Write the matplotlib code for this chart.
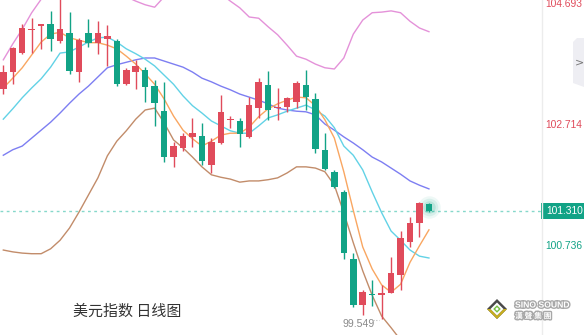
import matplotlib
matplotlib.use("Agg")
import matplotlib.pyplot as plt
import matplotlib.transforms as mtransforms
import matplotlib.patheffects as pe
from matplotlib.patches import Polygon, Rectangle

plt.rcParams['font.family'] = ['Noto Sans CJK SC', 'DejaVu Sans']

# daily candles, US dollar index
opens = [103.303, 103.581, 103.891, 104.268, 104.341, 104.366, 104.088, 104.218, 103.581, 104.218,
         104.055, 104.120, 104.088, 103.385, 103.581, 103.614, 103.352, 102.943, 102.191, 102.338,
         102.518, 102.534, 102.060, 102.420, 102.796, 102.780, 102.518, 102.992, 103.368, 102.992,
         103.008, 103.090, 103.368, 103.139, 102.306, 101.946, 101.619, 100.523, 99.771, 99.951,
         99.935, 99.968, 100.262, 100.801, 101.112, 101.423]
highs = [103.695, 103.990, 104.366, 104.464, 104.357, 104.578, 104.790, 104.562, 104.137, 104.447,
         104.415, 104.349, 104.120, 103.646, 103.777, 103.663, 103.450, 103.417, 102.436, 102.583,
         102.829, 102.747, 102.502, 103.205, 102.861, 102.829, 103.172, 103.483, 103.597, 103.319,
         103.172, 103.434, 103.614, 103.237, 102.583, 101.979, 101.652, 100.621, 100.017, 100.180,
         100.098, 100.556, 100.981, 101.210, 101.455, 101.439]
lows = [103.221, 103.385, 103.870, 103.891, 103.957, 103.924, 104.055, 103.548, 103.417, 103.990,
        103.875, 103.679, 103.352, 103.368, 103.303, 103.090, 102.698, 102.109, 102.028, 102.289,
        102.354, 102.060, 101.930, 102.404, 102.665, 102.354, 102.502, 102.829, 102.796, 102.796,
        102.927, 102.992, 102.960, 102.256, 101.979, 101.684, 100.523, 99.738, 99.608, 99.755,
        99.549, 99.960, 100.017, 100.720, 100.883, 101.300]
closes = [103.581, 103.973, 104.300, 104.284, 104.349, 104.120, 104.284, 103.597, 104.104, 104.055,
          104.218, 104.169, 103.385, 103.614, 103.679, 103.336, 103.074, 102.191, 102.371, 102.534,
          102.583, 102.126, 102.436, 102.927, 102.812, 102.567, 103.041, 103.417, 102.960, 103.008,
          103.156, 103.401, 103.172, 102.322, 101.995, 101.701, 100.621, 99.771, 99.984, 99.935,
          99.968, 100.294, 100.867, 101.112, 101.439, 101.310]

# indicator lines
ma_orange = [103.32, 103.48, 103.65, 103.86, 104.07, 104.20, 104.23, 104.14, 104.10, 104.06,
             104.06, 104.02, 103.96, 103.84, 103.71, 103.55, 103.38, 103.14, 102.86, 102.63,
             102.49, 102.37, 102.45, 102.55, 102.58, 102.58, 102.68, 102.85, 102.98, 103.06,
             103.12, 103.17, 103.16, 103.03, 102.80, 102.50, 101.95, 101.32, 100.72, 100.36,
             100.10, 99.98, 100.11, 100.47, 100.74, 101.00]
ma_cyan = [102.81, 102.98, 103.16, 103.32, 103.47, 103.66, 103.89, 103.91, 103.99, 104.07,
           104.14, 104.15, 104.07, 103.96, 103.88, 103.79, 103.68, 103.53, 103.38, 103.19,
           103.03, 102.91, 102.78, 102.70, 102.62, 102.58, 102.58, 102.70, 102.83, 102.88,
           102.94, 102.99, 103.04, 102.96, 102.86, 102.67, 102.37, 102.22, 101.98, 101.62,
           101.28, 100.98, 100.83, 100.67, 100.57, 100.54]
ma_blue = [102.22, 102.31, 102.37, 102.50, 102.63, 102.76, 102.91, 103.07, 103.22, 103.35,
           103.50, 103.65, 103.70, 103.74, 103.78, 103.81, 103.81, 103.76, 103.71, 103.66,
           103.58, 103.48, 103.42, 103.35, 103.29, 103.22, 103.17, 103.12, 103.06, 102.99,
           102.96, 102.94, 102.93, 102.88, 102.73, 102.63, 102.52, 102.42, 102.31, 102.19,
           102.11, 102.01, 101.91, 101.80, 101.73, 101.67]
band_up = [103.78, 104.04, 104.28, 104.55, 104.77, 105.00, 105.17, 105.25, 105.28, 105.25,
           105.17, 105.05, 104.92, 104.81, 104.74, 104.68, 104.64, 104.81, 104.95, 105.05,
           105.12, 105.09, 104.99, 104.86, 104.74, 104.63, 104.48, 104.46, 104.32, 104.19,
           104.02, 103.84, 103.79, 103.71, 103.65, 103.63, 103.81, 104.20, 104.43, 104.55,
           104.56, 104.58, 104.55, 104.41, 104.30, 104.24]
band_dn = [100.67, 100.64, 100.62, 100.61, 100.61, 100.69, 100.83, 101.03, 101.29, 101.57,
           101.85, 102.21, 102.45, 102.62, 102.81, 102.96, 102.99, 102.75, 102.47, 102.34,
           102.19, 102.03, 101.90, 101.86, 101.83, 101.78, 101.80, 101.80, 101.82, 101.85,
           101.93, 102.03, 102.03, 102.01, 101.95, 101.73, 101.28, 100.79, 100.33, 99.93,
           99.59, 99.40, 99.20, 99.00, 98.81, 98.61]

axis_ticks = [104.693, 102.714, 100.736]
last_price = 101.310
low_price = 99.549
low_idx = 40

up_col = '#e04b5b'
dn_col = '#12a386'
num_font = 'Liberation Sans'

fig = plt.figure(figsize=(5.84, 3.35), dpi=100)
ax = fig.add_axes([0, 0, 541.5 / 584, 1])
ax.set_xlim(-0.35, 56.9)
ax.set_ylim(99.281, 104.758)
ax.axis('off')

x = list(range(len(opens)))

# lines
ax.plot(x, band_up, color='#e492d9', lw=1)
ax.plot(x, band_dn, color='#c28c6a', lw=1)
ax.plot(x, ma_blue, color='#7d7ef2', lw=1)
ax.plot(x, ma_cyan, color='#62d2e6', lw=1)
ax.plot(x, ma_orange, color='#f9a661', lw=1)

# candles
for i in x:
    o, h, l, c = opens[i], highs[i], lows[i], closes[i]
    col = up_col if c >= o else dn_col
    ax.vlines(i, l, h, color=col, lw=1, zorder=3)
    ax.bar(i, max(abs(c - o), 0.022), bottom=min(o, c), width=0.69, color=col, lw=0, zorder=4)

# glow on the live candle
for s, a in [(260, 0.07), (160, 0.10), (80, 0.14)]:
    ax.scatter(x[-1], (opens[-1] + closes[-1]) / 2, s=s, color=dn_col, alpha=a, lw=0, zorder=2)

# last price line
ax.axhline(last_price, color='#86d8cb', lw=1, ls=(0, (2, 2.5)), zorder=1)

# lowest point label
ax.text(low_idx - 4.1, low_price - 0.01, f'{low_price:.3f}', color='#8a8a8a', fontsize=7.6,
        ha='left', va='top', family=num_font)
ax.plot([low_idx - 0.9, low_idx - 0.3], [low_price - 0.03, low_price - 0.03], color='#bbbbbb',
        lw=0.8, ls=(0, (1, 1.5)))

# right price axis
trans = mtransforms.blended_transform_factory(fig.transFigure, ax.transData)
tick_cols = [up_col, up_col, dn_col]
for v, col in zip(axis_ticks, tick_cols):
    fig.text(545 / 584, v, f'{v:.3f}', transform=trans, color=col, fontsize=7.4,
             va='center', ha='left', family=num_font)

ov = fig.add_axes([0, 0, 1, 1], facecolor='none')
ov.set_xlim(0, 584)
ov.set_ylim(335, 0)
ov.axis('off')
ov.plot([541.5, 541.5], [0, 335], color='#ececec', lw=1)

ov.add_patch(Rectangle((541, 203), 43, 15.5, color=dn_col, lw=0))
fig.text(546 / 584, last_price, f'{last_price:.3f}', transform=trans, color='white', fontsize=7.4,
         va='center', ha='left', family=num_font)

# collapse button
ov.add_patch(Polygon([(577, 38), (584, 38), (584, 87), (573, 83), (573, 42)], closed=True,
                     color='#eeeef3', lw=0))
ov.text(579, 62, '>', color='#777777', fontsize=8, ha='center', va='center', family='DejaVu Sans')

# title
ov.text(73, 312, '美元指数 日线图', color='#333333', fontsize=10.8, ha='left', va='center')

# logo
cx, cy = 497, 309
ov.add_patch(Polygon([(cx, cy - 10), (cx + 10, cy), (cx, cy + 10), (cx - 10, cy)], color='#4a4a4a', lw=0))
ov.add_patch(Polygon([(cx - 10, cy), (cx, cy + 10), (cx + 10, cy), (cx + 6.5, cy), (cx, cy + 6.5),
                      (cx - 6.5, cy)], color='#c6ad1e', lw=0))
ov.add_patch(Polygon([(cx, cy - 6.5), (cx + 6.5, cy), (cx, cy + 6.5), (cx - 6.5, cy)], color='white', lw=0))
ov.add_patch(Polygon([(cx, cy - 3.8), (cx + 3.8, cy), (cx, cy + 3.8), (cx - 3.8, cy)], color='#78c043', lw=0))
ov.add_patch(Polygon([(cx, cy - 1.8), (cx + 1.8, cy), (cx, cy + 1.8), (cx - 1.8, cy)], color='white', lw=0))
glow = [pe.withStroke(linewidth=2, foreground='#a8a8a8')]
ov.text(515, 305, 'SINO SOUND', color='white', fontsize=6.2, fontweight='bold', ha='left',
        va='center', family=num_font, path_effects=glow)
ov.text(515, 316, '漢 聲 集 團', color='white', fontsize=5.6, fontweight='bold', ha='left',
        va='center', family=['Noto Sans CJK TC', 'DejaVu Sans'], path_effects=glow)

fig.savefig('out.png', dpi=100)
